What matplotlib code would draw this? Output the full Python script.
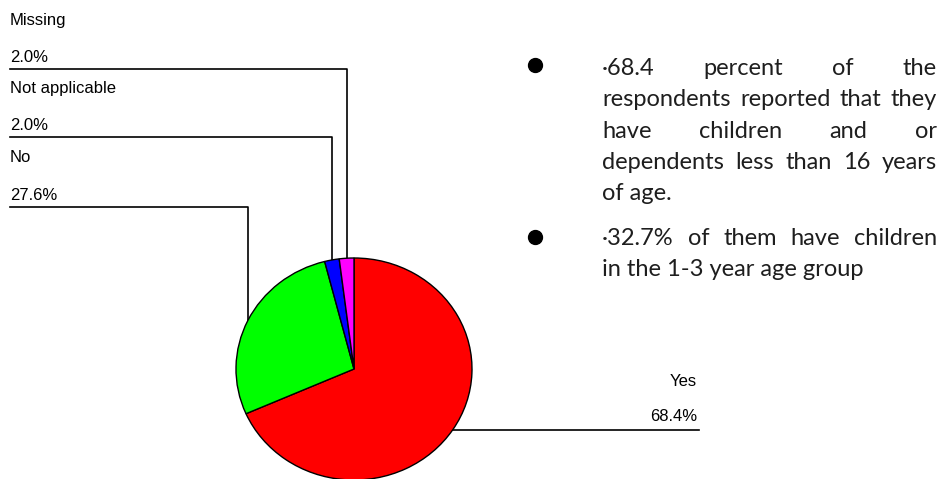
import numpy as np
import matplotlib.pyplot as plt

labels = ['Yes', 'No', 'Not applicable', 'Missing']
values = [68.4, 27.6, 2.0, 2.0]
colors = ['#ff0000', '#00ff00', '#0000ff', '#ff00ff']
# height of each label's leader line (left side labels)
label_rows = {'Missing': 69, 'Not applicable': 137, 'No': 207}

para1 = ['\u00b768.4   percent   of   the',
         'respondents reported that they',
         'have   children   and   or',
         'dependents less than 16 years',
         'of age.']
para2 = ['\u00b732.7%  of them have children',
         'in the 1-3 year age group']

fig = plt.figure(figsize=(9.43, 4.79), dpi=100)
ax = fig.add_axes([0, 0, 1, 1])
ax.set_xlim(0, 943)
ax.set_ylim(479, 0)
ax.axis('off')

# pie (slightly wider than tall, as in the original)
axp = fig.add_axes([236 / 943, (479 - 480) / 479, 236 / 943, 222 / 479])
wedges, _ = axp.pie(values, colors=colors, startangle=90, counterclock=False,
                    wedgeprops=dict(edgecolor='black', linewidth=1))
axp.set_aspect('auto')
axp.set_xlim(-1, 1)
axp.set_ylim(-1, 1)
axp.axis('off')

lab_font = dict(family='Liberation Sans', fontsize=12, color='black')
to_ax = axp.transData + ax.transData.inverted()
for w, lab, v in zip(wedges, labels, values):
    mid = np.deg2rad((w.theta1 + w.theta2) / 2)
    px, py = to_ax.transform((np.cos(mid), np.sin(mid)))
    if lab == 'Yes':
        ax.plot([px, 699], [py, py], color='black', lw=1.2)
        ax.text(697, py - 48, lab, ha='right', va='center', **lab_font)
        ax.text(697, py - 13, f'{v:.1f}%', ha='right', va='center', **lab_font)
    else:
        ly = label_rows[lab]
        ax.plot([10, px, px], [ly, ly, py], color='black', lw=1.2)
        ax.text(10, ly - 49, lab, ha='left', va='center', **lab_font)
        ax.text(10, ly - 12, f'{v:.1f}%', ha='left', va='center', **lab_font)

# bullet text, justified
txt_font = dict(family='Lato', fontsize=17, color='#1e1e1e')
x_left, x_right = 602, 937
fig.canvas.draw()
renderer = fig.canvas.get_renderer()


def put_line(line, y, justify):
    words = line.split()
    if not justify or len(words) == 1:
        ax.text(x_left, y, line, ha='left', va='center', **txt_font)
        return
    arts = [ax.text(0, y, wd, ha='left', va='center', **txt_font) for wd in words]
    widths = []
    for a in arts:
        bb = a.get_window_extent(renderer)
        widths.append(bb.width)
    gap = (x_right - x_left - sum(widths)) / (len(words) - 1)
    x = x_left
    for a, wd in zip(arts, widths):
        a.set_x(x)
        x += wd + gap


y = 68
for i, line in enumerate(para1):
    put_line(line, y, i < len(para1) - 1)
    y += 31.5
y = 238
for i, line in enumerate(para2):
    put_line(line, y, i < len(para2) - 1)
    y += 31.5

ax.plot([535, 535], [65, 237], 'o', color='black', markersize=10, linestyle='none')

fig.savefig('out.png', dpi=100)
